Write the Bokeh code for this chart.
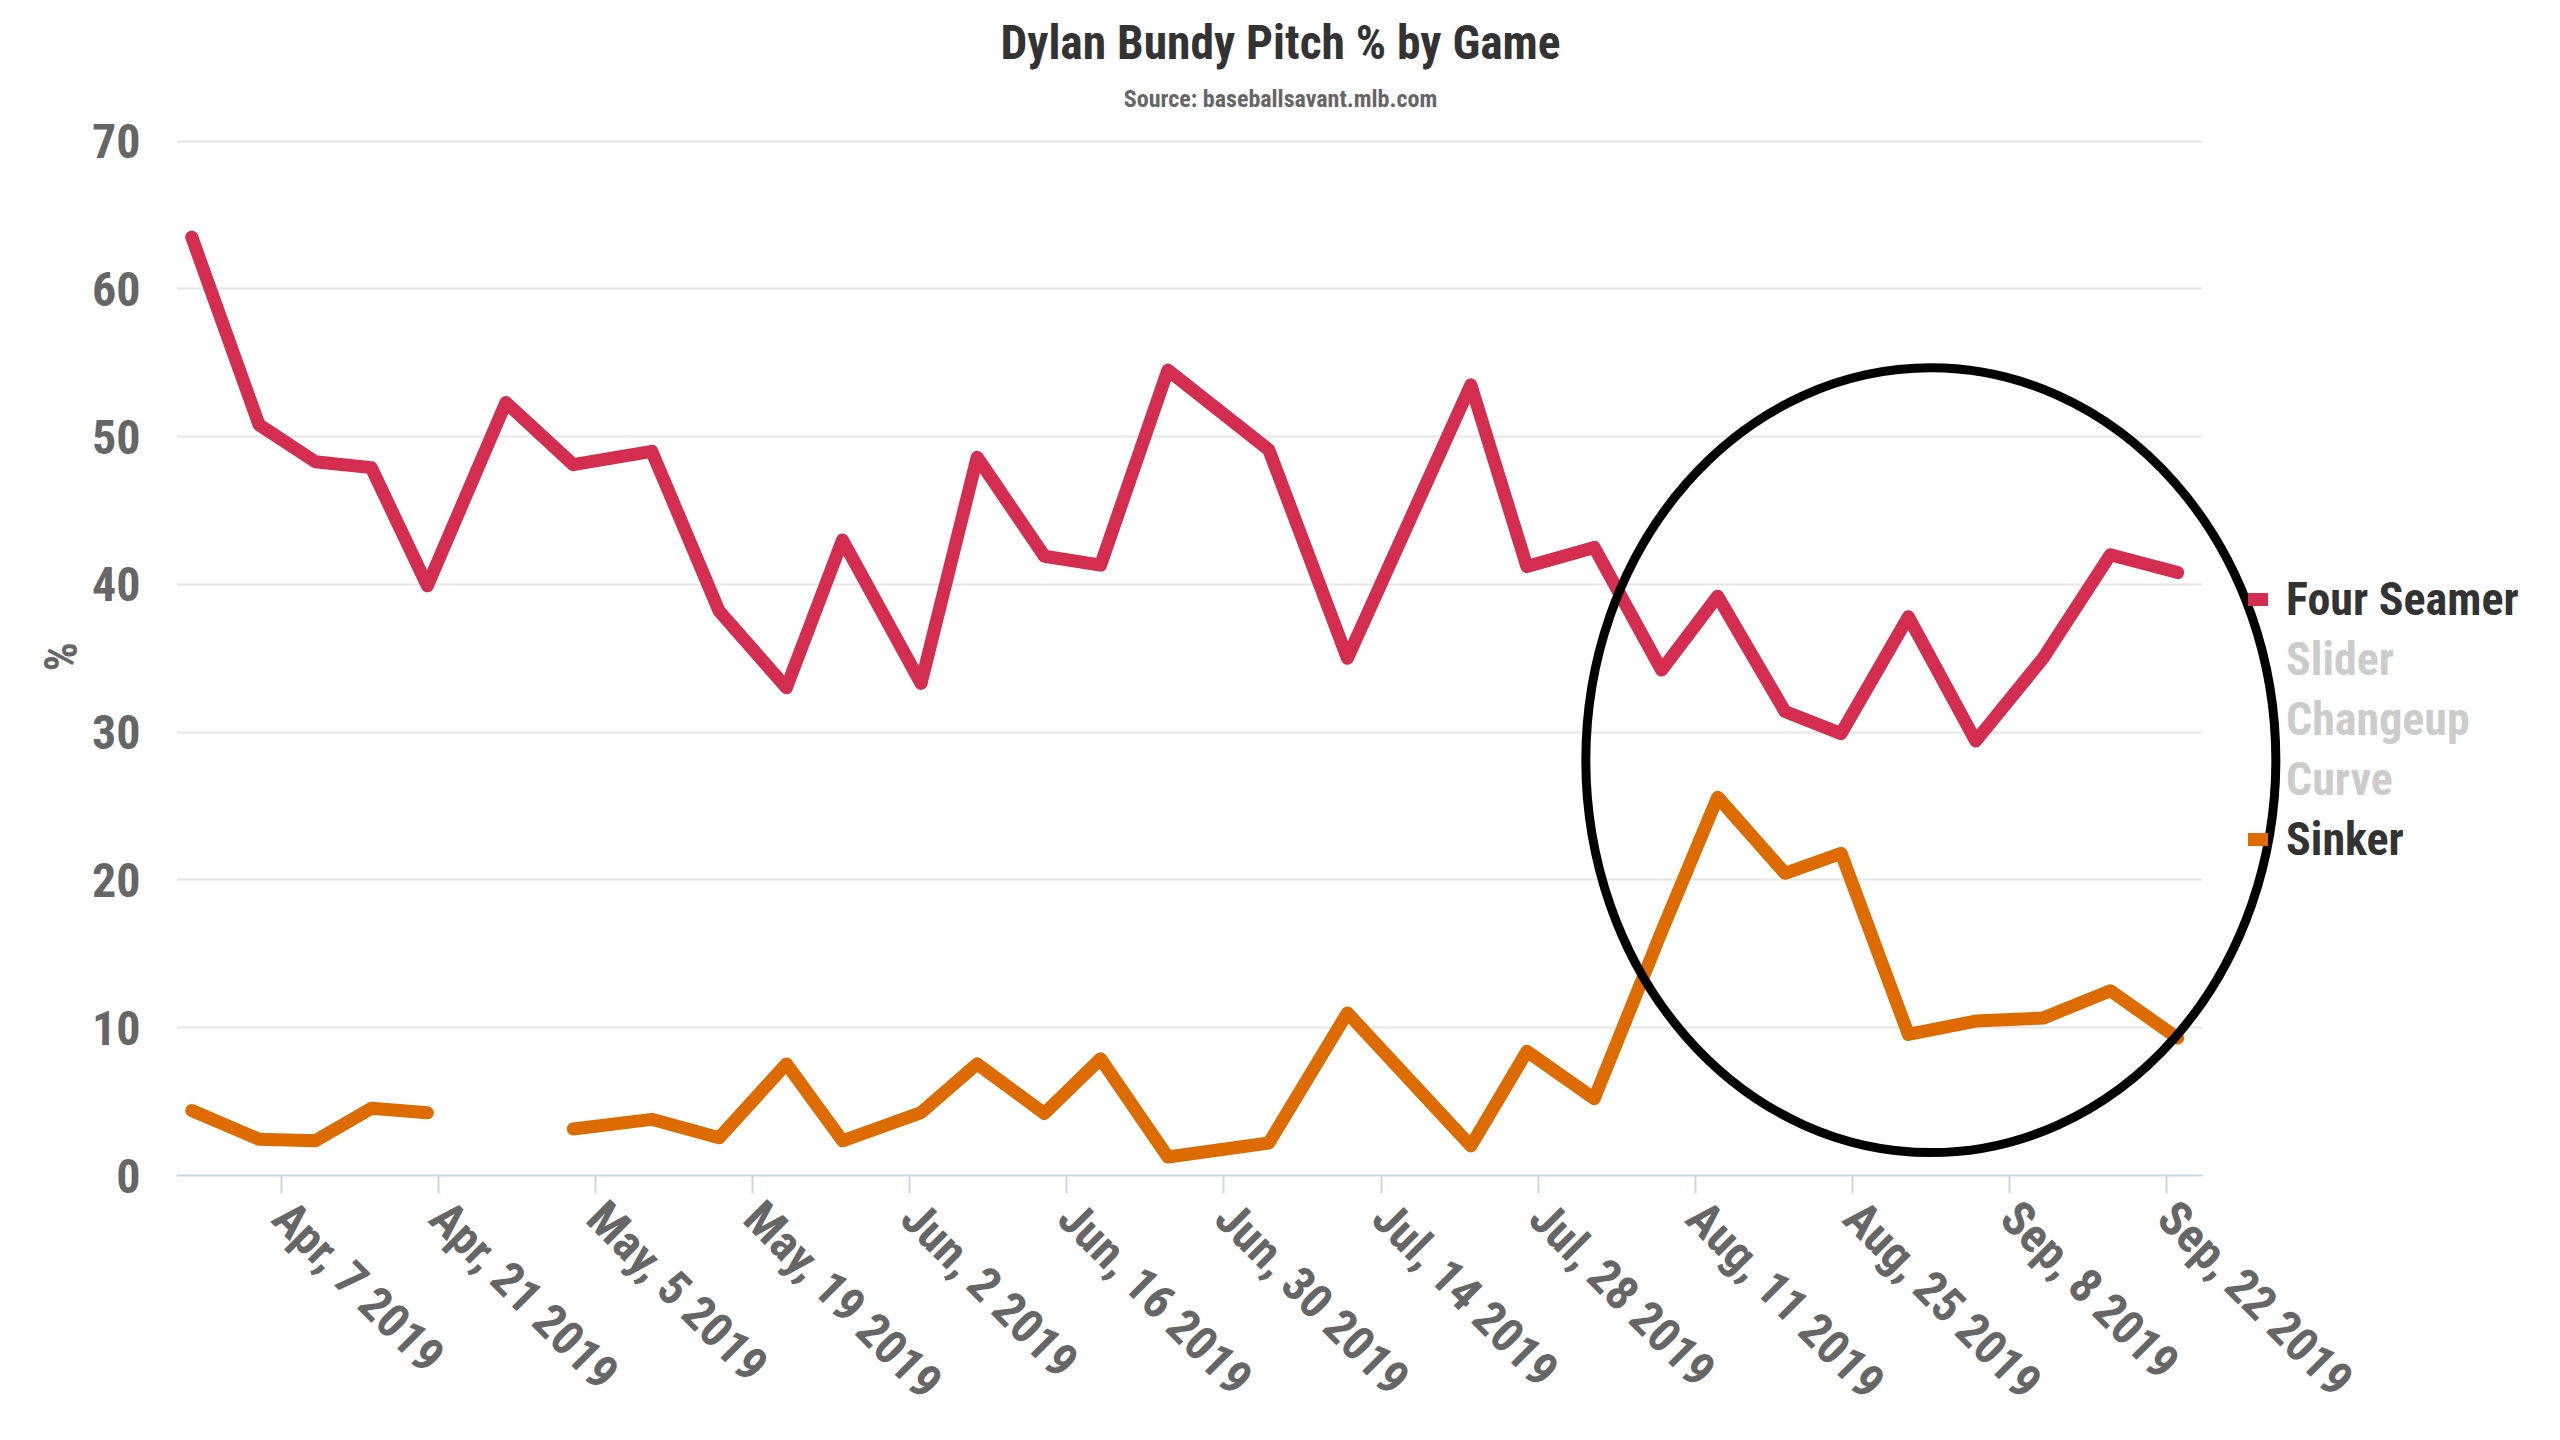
import math
import pandas as pd
from bokeh.plotting import figure
from bokeh.models import Range1d, FixedTicker, Legend, LegendItem, Label, Title, ColumnDataSource
from bokeh.embed import file_html
from bokeh.resources import INLINE

# ---------------- data ----------------
game_dates = ["2019-03-30", "2019-04-05", "2019-04-10", "2019-04-15", "2019-04-20",
              "2019-04-27", "2019-05-03", "2019-05-10", "2019-05-16", "2019-05-22",
              "2019-05-27", "2019-06-03", "2019-06-08", "2019-06-14", "2019-06-19",
              "2019-06-25", "2019-07-04", "2019-07-11", "2019-07-22", "2019-07-27",
              "2019-08-02", "2019-08-08", "2019-08-13", "2019-08-19", "2019-08-24",
              "2019-08-30", "2019-09-05", "2019-09-11", "2019-09-17", "2019-09-23"]
four_seamer = [63.5, 50.8, 48.3, 47.9, 39.9, 52.3, 48.1, 49.0, 38.2, 33.0,
               43.0, 33.3, 48.6, 41.9, 41.3, 54.5, 49.1, 35.0, 53.5, 41.2,
               42.5, 34.2, 39.2, 31.4, 29.9, 37.8, 29.4, 35.0, 42.0, 40.8]
sinker = [4.4, 2.45, 2.35, 4.55, 4.25, float("nan"), 3.15, 3.8, 2.55, 7.55,
          2.35, 4.25, 7.55, 4.2, 7.9, 1.25, 2.2, 11.0, 2.0, 8.4,
          5.2, 16.5, 25.6, 20.45, 21.8, 9.55, 10.45, 10.65, 12.5, 9.3]

x_tick_dates = ["2019-04-07", "2019-04-21", "2019-05-05", "2019-05-19", "2019-06-02",
                "2019-06-16", "2019-06-30", "2019-07-14", "2019-07-28", "2019-08-11",
                "2019-08-25", "2019-09-08", "2019-09-22"]
x_tick_labels = ["Apr, 7 2019", "Apr, 21 2019", "May, 5 2019", "May, 19 2019", "Jun, 2 2019",
                 "Jun, 16 2019", "Jun, 30 2019", "Jul, 14 2019", "Jul, 28 2019", "Aug, 11 2019",
                 "Aug, 25 2019", "Sep, 8 2019", "Sep, 22 2019"]
y_ticks = [0, 10, 20, 30, 40, 50, 60, 70]

shown_top = ["Four Seamer"]
hidden_series = ["Slider", "Changeup", "Curve"]
shown_bottom = ["Sinker"]

title_text = "Dylan Bundy Pitch % by Game"
subtitle_text = "Source: baseballsavant.mlb.com"
y_title = "%"

# highlight ellipse (annotation)
highlight_center = "2019-09-01"
highlight_y = 28.1
highlight_width_days = 61.5
highlight_height = 53.1

# ---------------- style ----------------
FONT = "Roboto Condensed"
C_FOUR = "#d42d4f"
C_SINK = "#de6b00"
C_HIDE = "#cccccc"
GREY_TXT = "#666666"
DARK_TXT = "#333333"
MS_DAY = 86400000.0
LW = 13

W, H = 2560, 1440
FR_L, FR_R, FR_B = 176, 2552, 1175      # frame edges (px)
PX_DAY = 11.22
PX_UNIT = (FR_B - 140.5) / 70.0


def ms(d):
    return pd.Timestamp(d).value / 1e6


anchor = ms("2019-04-07")
x_start = anchor - (281 - FR_L) / PX_DAY * MS_DAY
x_end = x_start + (FR_R - FR_L) / PX_DAY * MS_DAY
axis_end = x_start + (2202 - FR_L) / PX_DAY * MS_DAY
y_end = FR_B / PX_UNIT

p = figure(width=W, height=H, x_axis_type="datetime", title=None,
           output_backend="svg", toolbar_location=None,
           x_range=Range1d(x_start, x_end), y_range=Range1d(0, y_end),
           min_border_left=FR_L, min_border_right=W - FR_R,
           min_border_top=0, min_border_bottom=H - FR_B)
p.outline_line_color = None
p.background_fill_color = "white"
p.border_fill_color = "white"

# grid
p.xgrid.visible = False
yg = p.ygrid[0]
yg.ticker = FixedTicker(ticks=y_ticks)
yg.grid_line_color = "#e6e6e6"
yg.grid_line_width = 2
try:
    yg.cross_bounds = (x_start, axis_end)
except Exception:
    yg.visible = False
    gy = [t for t in y_ticks if t > 0]
    p.segment(x0=[x_start] * len(gy), x1=[axis_end] * len(gy), y0=gy, y1=gy,
              line_color="#e6e6e6", line_width=2, level="underlay")

# data lines
src = ColumnDataSource(dict(date=[ms(d) for d in game_dates], four=four_seamer, sinker=sinker))
r_four = p.line("date", "four", source=src, line_color=C_FOUR, line_width=LW,
                line_join="round", line_cap="round")
r_hidden = [p.line(x=[], y=[], line_color=C_HIDE, line_width=LW, line_cap="round",
                   visible=False) for _ in hidden_series]
r_sink = p.line("date", "sinker", source=src, line_color=C_SINK, line_width=LW,
                line_join="round", line_cap="round")

ROW = 60
row_top = 569  # page y of the first legend row


def make_legend(names, rends, first_row, color):
    n = len(names)
    bottom = row_top + (first_row + n) * ROW
    return Legend(items=[LegendItem(label=nm, renderers=[r]) for nm, r in zip(names, rends)],
                  location=(2248 - FR_L, FR_B - bottom), orientation="vertical",
                  glyph_width=20, glyph_height=ROW, label_height=ROW, label_standoff=18,
                  spacing=0, padding=0, margin=0,
                  label_text_font=FONT, label_text_font_style="bold",
                  label_text_font_size="46px", label_text_color=color,
                  background_fill_alpha=0, border_line_alpha=0)


p.add_layout(make_legend(shown_top, [r_four], 0, DARK_TXT))
p.add_layout(make_legend(hidden_series, r_hidden, 1, C_HIDE))
p.add_layout(make_legend(shown_bottom, [r_sink], 4, DARK_TXT))

# highlight ellipse
p.ellipse(x=[ms(highlight_center)], y=[highlight_y],
          width=[highlight_width_days * MS_DAY], height=[highlight_height],
          fill_alpha=0, line_color="black", line_width=9, level="overlay")

# axes
tick_ms = [ms(d) for d in x_tick_dates]
xa = p.xaxis[0]
xa.ticker = FixedTicker(ticks=tick_ms)
xa.major_label_overrides = {t: lab for t, lab in zip(tick_ms, x_tick_labels)}
xa.major_label_orientation = -math.pi / 4
xa.bounds = (x_start, axis_end)
xa.axis_line_color = "#ccd6eb"
xa.axis_line_width = 2
xa.major_tick_line_color = "#ccd6eb"
xa.major_tick_line_width = 2
xa.major_tick_out = 18
xa.major_tick_in = 0
xa.minor_tick_line_color = None
xa.major_label_standoff = 16
xa.major_label_text_font = FONT
xa.major_label_text_font_style = "bold"
xa.major_label_text_font_size = "48px"
xa.major_label_text_color = GREY_TXT

ya = p.yaxis[0]
ya.ticker = FixedTicker(ticks=y_ticks)
ya.axis_line_color = None
ya.major_tick_line_color = None
ya.minor_tick_line_color = None
ya.major_label_standoff = 30
ya.major_label_text_font = FONT
ya.major_label_text_font_style = "bold"
ya.major_label_text_font_size = "48px"
ya.major_label_text_color = GREY_TXT

# y-axis title, positioned at the middle of the 0-70 span
p.add_layout(Title(text=y_title, align="left", offset=504, vertical_align="middle",
                   standoff=0, text_font=FONT, text_font_style="bold",
                   text_font_size="46px", text_color=GREY_TXT), "left")

# titles as labels (inside the frame, centred on the page)
center_x = x_start + (W / 2 - FR_L) / PX_DAY * MS_DAY
p.add_layout(Label(x=center_x, y=(FR_B - 42) / PX_UNIT, text=title_text,
                   text_align="center", text_baseline="alphabetic",
                   text_font=FONT, text_font_style="bold", text_font_size="47.5px",
                   text_color=DARK_TXT))
p.add_layout(Label(x=center_x, y=(FR_B - 98) / PX_UNIT, text=subtitle_text,
                   text_align="center", text_baseline="alphabetic",
                   text_font=FONT, text_font_style="bold", text_font_size="24px",
                   text_color=GREY_TXT))

open("out.html", "w").write(file_html(p, INLINE))
